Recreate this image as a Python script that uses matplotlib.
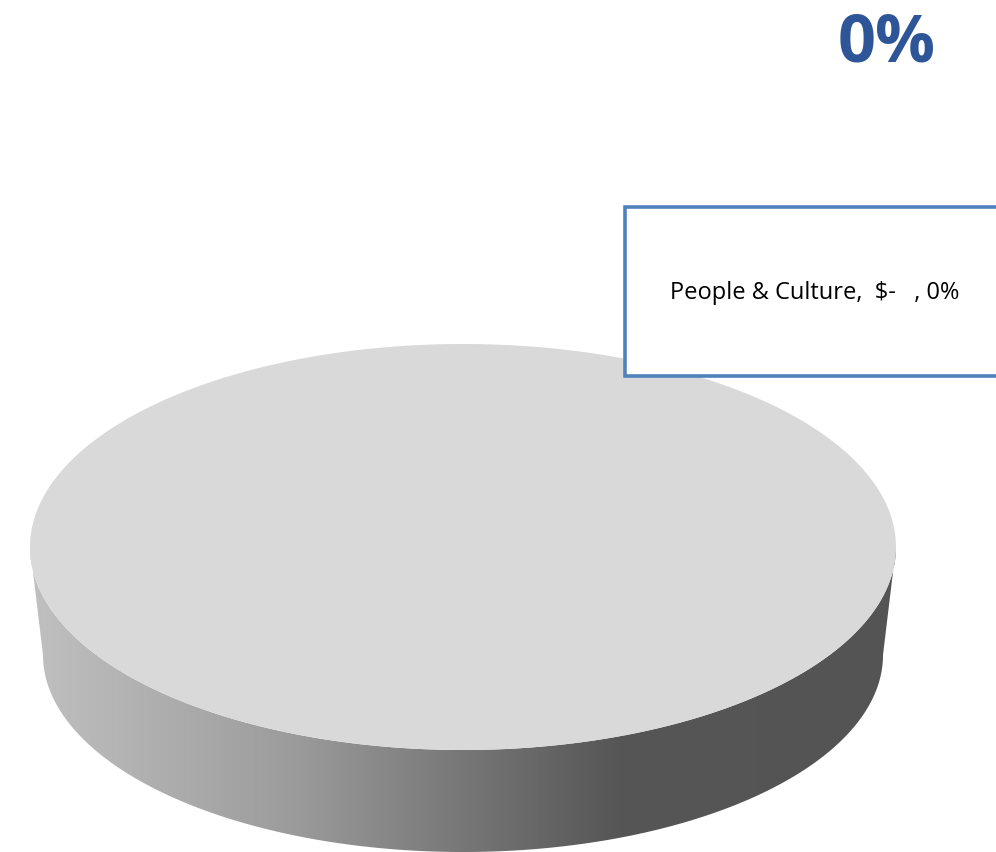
import numpy as np
import matplotlib
matplotlib.use("Agg")
import matplotlib.pyplot as plt
from matplotlib.patches import Polygon, Rectangle
from matplotlib.colors import LinearSegmentedColormap

# ---- data ----
categories = ["People & Culture"]
values = [0.0]
percents = [0]
title_text = "0%"

# ---- figure ----
W, H = 996, 852
fig = plt.figure(figsize=(W / 100, H / 100), dpi=100)
ax = fig.add_axes([0, 0, 1, 1])
ax.set_xlim(0, W)
ax.set_ylim(H, 0)
ax.axis("off")

# geometry of the 3D pie (pixel space)
cx, cy_top, a_top, b_top = 463, 547, 433, 203
cy_bot, a_bot, b_bot = 655, 420, 197

total = sum(values)
fracs = [v / total for v in values] if total > 0 else [1.0 / len(values)] * len(values)

# side polygon: along top lower arc left->right, then bottom lower arc right->left
tl = np.linspace(np.pi, 0, 400)
top_arc = np.column_stack([cx + a_top * np.cos(tl), cy_top + b_top * np.sin(tl)])
bot_arc = np.column_stack([cx + a_bot * np.cos(tl[::-1]), cy_bot + b_bot * np.sin(tl[::-1])])
side_pts = np.vstack([top_arc, bot_arc])
side = Polygon(side_pts, closed=True, facecolor="none", edgecolor="none")
ax.add_patch(side)

cmap = LinearSegmentedColormap.from_list(
    "side", [(0.0, "#c0c0c0"), (0.30, "#9c9c9c"), (0.68, "#565656"), (1.0, "#545454")])
grad = np.linspace(0, 1, 512).reshape(1, -1)
im = ax.imshow(grad, cmap=cmap, extent=[cx - a_top, cx + a_top, cy_bot + b_bot + 2, cy_top - 5],
               aspect="auto", interpolation="bicubic", zorder=1)
im.set_clip_path(side)

# top face slices
start = 0.0
for f in fracs:
    th = np.linspace(start, start + 2 * np.pi * f, 720)
    pts = np.column_stack([cx + a_top * np.cos(th), cy_top + b_top * np.sin(th)])
    if f < 1.0:
        pts = np.vstack([[cx, cy_top], pts])
    ax.add_patch(Polygon(pts, closed=True, facecolor="#d9d9d9", edgecolor="none", zorder=2))
    start += 2 * np.pi * f

# data label box
ax.add_patch(Rectangle((625, 207), 400, 169, facecolor="white", edgecolor="#4f81bd",
                       linewidth=2.6, zorder=5))
label = f"{categories[0]},  $-   , {percents[0]}%"
ax.text(670, 293, label, fontsize=17, family="Open Sans", color="black",
        ha="left", va="center", zorder=6)

# title
ax.text(887, 44, title_text, fontsize=48, fontweight="bold", family="Open Sans",
        color="#2e5597", ha="center", va="center")

fig.savefig("out.png", dpi=100)
